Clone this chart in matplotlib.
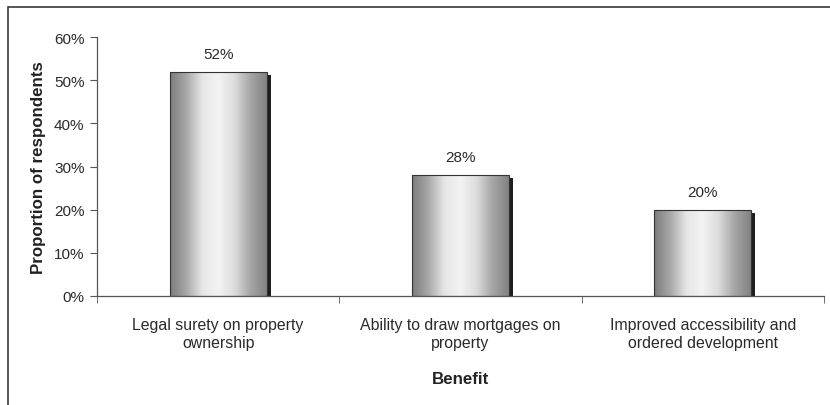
import numpy as np
import matplotlib.pyplot as plt
from matplotlib.patches import Rectangle
from matplotlib.colors import LinearSegmentedColormap
from matplotlib import transforms
from matplotlib.ticker import PercentFormatter

plt.rcParams['font.family'] = ['Liberation Sans', 'DejaVu Sans']

benefits = ['Legal surety on property\nownership',
            'Ability to draw mortgages on\nproperty',
            'Improved accessibility and\nordered development']
shares = [0.52, 0.28, 0.20]

fig = plt.figure(figsize=(8.3, 4.06), dpi=100)
ax = fig.add_axes([97/830, 1 - 297/406, 727/830, 259/406])

# frame around the chart area (only top and left edges fall inside the image)
fig.patches.append(Rectangle((8/830, -0.5), 2, 1.5 - 8/406,
                             transform=fig.transFigure, fill=False,
                             edgecolor='#3a3a3a', lw=1.2))

cyl = LinearSegmentedColormap.from_list(
    'cyl', ['#7c7c7c', '#a8a8a8', '#e6e6e6', '#f3f3f3', '#dcdcdc', '#a5a5a5', '#828282'])
grad = np.linspace(0, 1, 256).reshape(1, -1)

width = 0.4
shadow_tr = transforms.offset_copy(ax.transData, fig=fig, x=4, y=-3, units='dots')
for i, v in enumerate(shares):
    x0 = i - width / 2
    ax.add_patch(Rectangle((x0, 0), width, v, facecolor='#1e1e1e',
                           edgecolor='none', transform=shadow_tr, zorder=1))
    im = ax.imshow(grad, cmap=cyl, aspect='auto', extent=(x0, x0 + width, 0, v),
                   zorder=2, interpolation='bilinear')
    bar = Rectangle((x0, 0), width, v, facecolor='none', edgecolor='#333333',
                    lw=0.8, zorder=3)
    ax.add_patch(bar)
    im.set_clip_path(bar)
    ax.text(i, v + 0.025, f'{v:.0%}', ha='center', va='bottom', fontsize=11,
            color='#2a2a2a')

ax.set_xlim(-0.5, 2.5)
ax.set_ylim(0, 0.6)
ax.set_yticks(np.arange(0, 0.61, 0.1))
ax.yaxis.set_major_formatter(PercentFormatter(1.0, decimals=0))
ax.set_xticks(range(3))
ax.set_xticklabels(benefits, fontsize=11.4, color='#2a2a2a', linespacing=1.3)
ax.set_xticks([-0.5, 0.5, 1.5, 2.5], minor=True)
ax.tick_params(axis='x', which='major', length=0, pad=15)
ax.tick_params(axis='x', which='minor', length=5, direction='out', color='#555555')
ax.tick_params(axis='y', length=5, direction='out', color='#555555',
               labelsize=11, labelcolor='#2a2a2a', pad=4)

for s in ('top', 'right'):
    ax.spines[s].set_visible(False)
for s in ('left', 'bottom'):
    ax.spines[s].set_color('#555555')
    ax.spines[s].set_linewidth(0.9)

ax.set_ylabel('Proportion of respondents', fontsize=12.2, fontweight='bold',
              color='#222222', labelpad=6)
ax.set_xlabel('Benefit', fontsize=12.2, fontweight='bold', color='#222222',
              labelpad=15)

fig.savefig('out.png', dpi=100)
